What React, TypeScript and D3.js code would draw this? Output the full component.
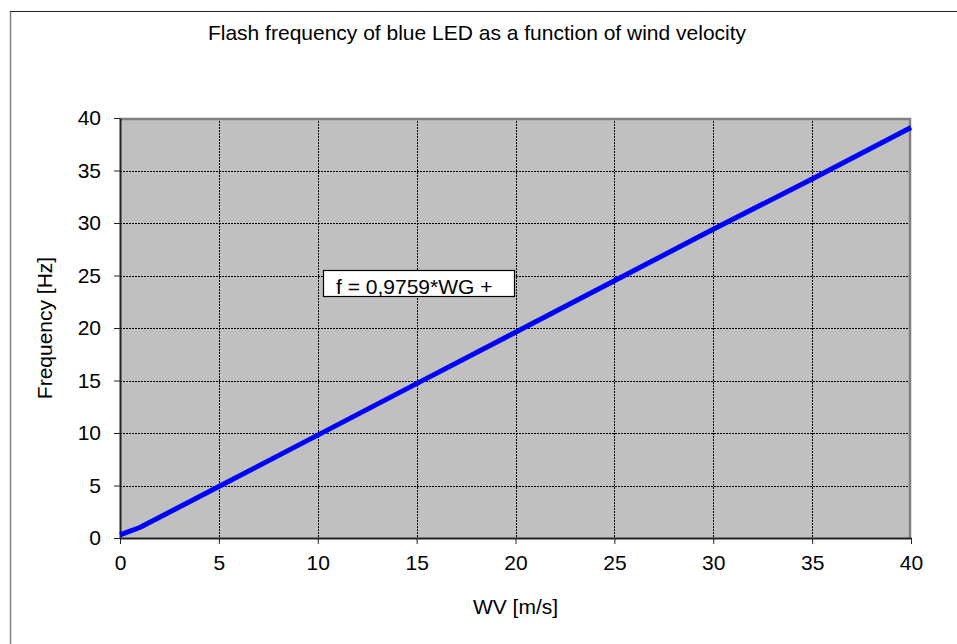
import React, { useEffect, useRef } from 'react';
import * as d3 from 'd3';

const windVelocity = [0, 1, 5, 10, 15, 20, 25, 30, 35, 40];
const frequency = [0.3, 1.0, 4.9, 9.8, 14.7, 19.6, 24.5, 29.4, 34.2, 39.1];
const xTicks = [0, 5, 10, 15, 20, 25, 30, 35, 40];
const yTicks = [0, 5, 10, 15, 20, 25, 30, 35, 40];

const W = 957;
const H = 644;

const App = () => {
    const svgRef = useRef(null);

    useEffect(() => {
        const svg = d3.select(svgRef.current);
        svg.selectAll('*').remove();

        const margin = { top: 118, right: 46, bottom: 106, left: 120 };
        const width = W - margin.left - margin.right;
        const height = H - margin.top - margin.bottom;
        const font = 'Liberation Sans, Arial, sans-serif';
        const fs = 21;

        // Outer frame (only left and top edges visible)
        svg.append('line').attr('x1', 10.5).attr('x2', 10.5).attr('y1', 11).attr('y2', H)
            .attr('stroke', '#808080').attr('stroke-width', 1.5);
        svg.append('line').attr('x1', 10).attr('x2', W).attr('y1', 11.5).attr('y2', 11.5)
            .attr('stroke', '#222').attr('stroke-width', 1.2);

        const g = svg.append('g').attr('transform', `translate(${margin.left},${margin.top})`);

        const x = d3.scaleLinear().domain([0, 40]).range([0, width]);
        const y = d3.scaleLinear().domain([0, 40]).range([height, 0]);

        // Plot background
        g.append('rect').attr('width', width).attr('height', height).attr('fill', '#c0c0c0');

        // Grid
        g.selectAll('.vgrid').data(xTicks.filter(d => d > 0 && d < 40)).enter().append('line')
            .attr('x1', d => Math.round(x(d)) + 0.5).attr('x2', d => Math.round(x(d)) + 0.5)
            .attr('y1', 0).attr('y2', height)
            .attr('stroke', '#000').attr('stroke-width', 1).attr('stroke-dasharray', '2,1');
        g.selectAll('.hgrid').data(yTicks.filter(d => d > 0 && d < 40)).enter().append('line')
            .attr('y1', d => Math.round(y(d)) + 0.5).attr('y2', d => Math.round(y(d)) + 0.5)
            .attr('x1', 0).attr('x2', width)
            .attr('stroke', '#000').attr('stroke-width', 1).attr('stroke-dasharray', '2,1');

        // Plot border top & right
        g.append('path').attr('d', `M0,1 H${width - 1} V${height}`)
            .attr('fill', 'none').attr('stroke', '#808080').attr('stroke-width', 2.5);

        // Axes
        const xAxis = g.append('g').attr('transform', `translate(0,${height})`)
            .call(d3.axisBottom(x).tickValues(xTicks).tickSize(6).tickPadding(11).tickSizeOuter(0));
        const yAxis = g.append('g')
            .call(d3.axisLeft(y).tickValues(yTicks).tickSize(6).tickPadding(13).tickSizeOuter(0));
        [xAxis, yAxis].forEach(a => {
            a.attr('font-size', fs).attr('font-family', font);
            a.select('.domain').attr('stroke', '#222').attr('stroke-width', 2);
            a.selectAll('line').attr('stroke', '#222');
            a.selectAll('text').attr('fill', '#000');
        });

        // Series
        const line = d3.line<number>()
            .x((d, i) => x(windVelocity[i]))
            .y(d => y(d));
        g.append('path').datum(frequency)
            .attr('fill', 'none').attr('stroke', '#0000ff').attr('stroke-width', 5)
            .attr('stroke-linejoin', 'round')
            .attr('d', line);

        // Equation box
        g.append('rect').attr('x', 203.5).attr('y', 152.5).attr('width', 191).attr('height', 26)
            .attr('fill', '#fff').attr('stroke', '#000').attr('stroke-width', 1.2);
        g.append('text').attr('x', 216).attr('y', 176)
            .attr('font-family', font).attr('font-size', fs).attr('fill', '#000')
            .text('f = 0,9759*WG +');

        // Titles
        svg.append('text').attr('x', 477).attr('y', 40).attr('text-anchor', 'middle')
            .attr('font-family', font).attr('font-size', fs).text('Flash frequency of blue LED as a function of wind velocity');
        svg.append('text').attr('x', margin.left + width / 2).attr('y', 614).attr('text-anchor', 'middle')
            .attr('font-family', font).attr('font-size', fs).text('WV [m/s]');
        svg.append('text').attr('transform', `translate(52,${margin.top + height / 2}) rotate(-90)`)
            .attr('text-anchor', 'middle')
            .attr('font-family', font).attr('font-size', fs).text('Frequency [Hz]');
    }, []);

    return (
        <svg ref={svgRef} width={W} height={H}
            style={{ position: 'absolute', left: 0, top: 0, background: '#fff' }} />
    );
};

export default App;
